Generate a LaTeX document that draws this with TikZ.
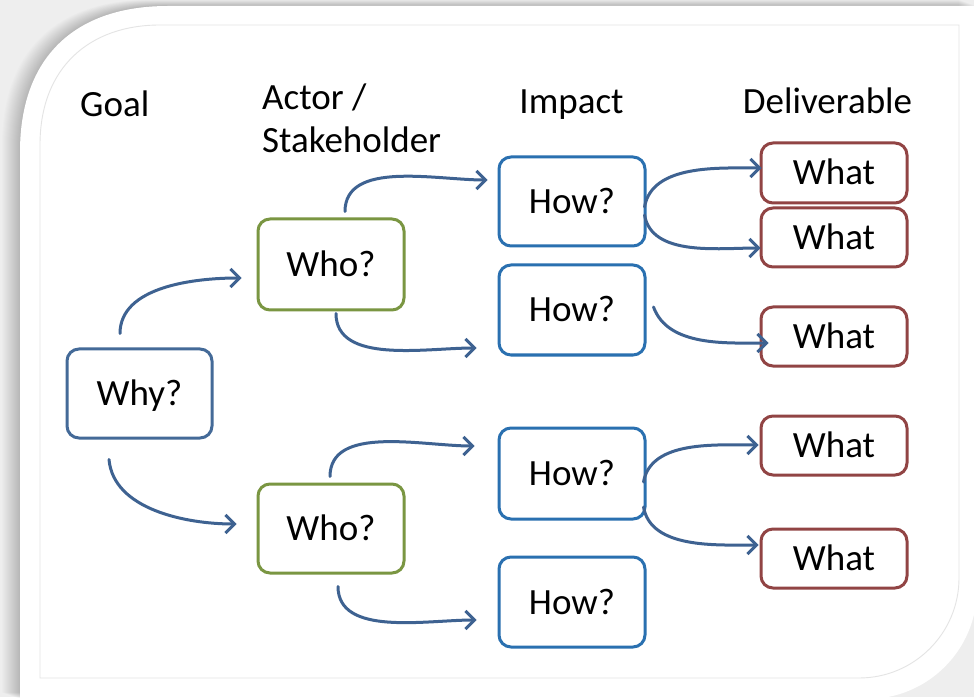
\documentclass[tikz,border=0pt]{standalone}
\usepackage{fontspec}
\setmainfont{Carlito}
\usetikzlibrary{arrows.meta,calc}
\definecolor{bgc}{RGB}{238,238,238}
\definecolor{innerc}{RGB}{228,228,228}
\definecolor{whyc}{RGB}{68,106,152}
\definecolor{whoc}{RGB}{122,150,66}
\definecolor{howc}{RGB}{42,112,176}
\definecolor{whatc}{RGB}{145,68,68}
\definecolor{arrowc}{RGB}{62,98,145}
\begin{document}
\begin{tikzpicture}[x=1pt,y=1pt,
  box/.style={draw, rounded corners=12pt, line width=3pt, minimum width=146pt,
    inner sep=0pt, text height=24pt, text depth=0pt,
    font=\fontsize{37}{43}\selectfont, fill=white},
  whybox/.style={box, draw=whyc},
  whobox/.style={box, draw=whoc},
  howbox/.style={box, draw=howc},
  whatbox/.style={box, draw=whatc, minimum height=60pt},
  hdr/.style={font=\fontsize{37}{43}\selectfont, inner sep=0pt},
  conn/.style={draw=arrowc, line width=3pt, line cap=round,
    -{Straight Barb[length=9pt,width=18pt,line width=3pt]}}
]
\useasboundingbox (0,0) rectangle (974,697);
\fill[bgc] (0,0) rectangle (974,697);
\def\outerpath{(20,-2) -- (20,545) .. controls (20,640) and (75,691) .. (168,691) -- (977,691) -- (977,108) arc[start angle=0,end angle=-90,radius=110] -- cycle}
\foreach \k in {1,...,18}{
  \fill[black,opacity=0.012,xshift=-\k pt,yshift=0.35*\k pt] \outerpath;
}
\fill[white] \outerpath;
\draw[innerc, line width=0.9pt] (40,19) -- (40,552) .. controls (40,630) and (90,672) .. (160,672) -- (959,672) -- (959,119) arc[start angle=0,end angle=-90,radius=100] -- cycle;

% headers
\node[hdr, anchor=base west] (hgoal) at (80,580) {Goal};
\node[hdr, anchor=base west, align=left] (hactor) at (262,544) {Actor /\\Stakeholder};
\node[hdr, anchor=base] (himpact) at (571.5,583) {Impact};
\node[hdr, anchor=base] (hdeliv) at (827.5,583) {Deliverable};

% nodes
\node[whybox, minimum width=145pt, minimum height=89pt] (why) at (139.5,303.5) {Why?};
\node[whobox, minimum height=91pt] (who1) at (331,432.5) {Who?};
\node[whobox, minimum height=89pt] (who2) at (331,168.5) {Who?};
\node[howbox, minimum height=89pt] (how1) at (572,495.5) {How?};
\node[howbox, minimum height=90pt] (how2) at (572,387) {How?};
\node[howbox, minimum height=91pt] (how3) at (572,223.5) {How?};
\node[howbox, minimum height=90pt] (how4) at (572,95) {How?};
\node[whatbox] (what1) at (834,524) {What};
\node[whatbox, minimum height=59pt] (what2) at (834,459.5) {What};
\node[whatbox, minimum height=59pt] (what3) at (834,360.5) {What};
\node[whatbox, minimum height=59pt] (what4) at (834,251.5) {What};
\node[whatbox, minimum height=59pt] (what5) at (834,138.5) {What};

% connectors
\draw[conn] ($(why.north)+(-19.5,14)$) to[out=90,in=180,looseness=0.9] ($(who1.west)+(-15,-13.5)$);
\draw[conn] ($(why.south)+(-30.5,-20)$) to[out=-85,in=180,looseness=0.9] ($(who2.west)+(-20,4.5)$);
\draw[conn] ($(who1.north)+(14,6)$) to[out=90,in=180,looseness=0.9] ($(how1.west)+(-10,21.5)$);
\draw[conn] ($(who1.south)+(5,-2)$) to[out=-90,in=180,looseness=0.9] ($(how2.west)+(-21,-38)$);
\draw[conn] ($(who2.north)+(-1,6)$) to[out=90,in=180,looseness=0.9] ($(how3.west)+(-23,27.5)$);
\draw[conn] ($(who2.south)+(7,-12)$) to[out=-90,in=180,looseness=0.9] ($(how4.west)+(-21,-18)$);
\draw[conn] ($(how1.east)+(-2,-5.5)$) to[out=80,in=180,looseness=0.9] ($(what1.west)+(2,5)$);
\draw[conn] ($(how1.east)+(-2,-13.5)$) to[out=-80,in=180,looseness=0.9] ($(what2.west)+(1,-10.5)$);
\draw[conn] ($(how2.east)+(7,3)$) to[out=-70,in=180,looseness=0.9] ($(what3.west)+(9,-6.5)$);
\draw[conn] ($(how3.east)+(-3,-8.5)$) to[out=80,in=180,looseness=0.9] ($(what4.west)+(-1,0.5)$);
\draw[conn] ($(how3.east)+(-3,-33.5)$) to[out=-80,in=180,looseness=0.9] ($(what5.west)+(-1,13.5)$);
\end{tikzpicture}
\end{document}
